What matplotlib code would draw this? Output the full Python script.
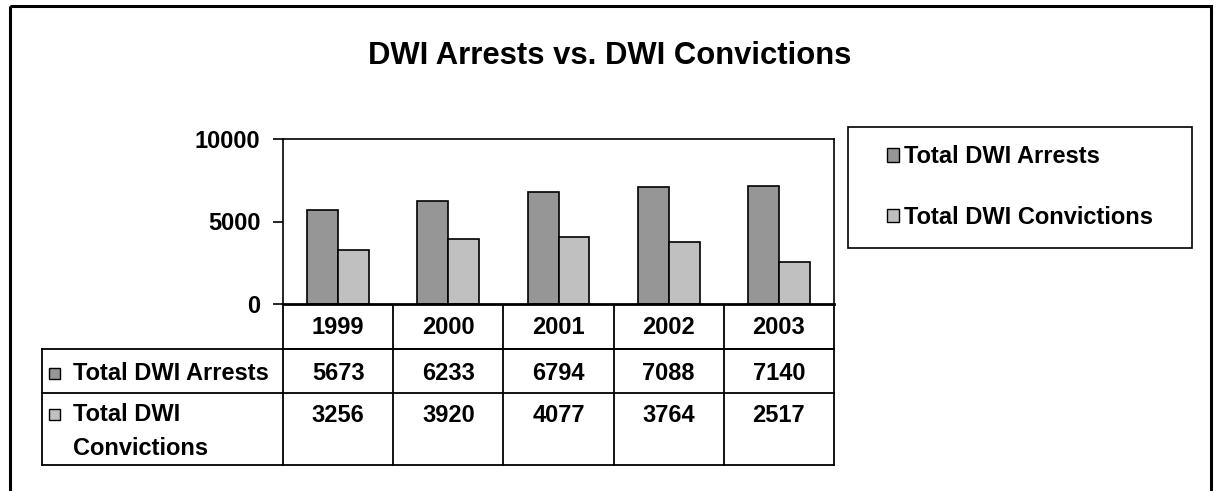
import matplotlib
matplotlib.use('Agg')
import matplotlib.pyplot as plt
from matplotlib.patches import Rectangle, Patch
from matplotlib import transforms

plt.rcParams['font.family'] = ['Liberation Sans', 'DejaVu Sans']
plt.rcParams['font.weight'] = 'bold'

# Data
years = ['1999', '2000', '2001', '2002', '2003']
arrests = [5673, 6233, 6794, 7088, 7140]
convictions = [3256, 3920, 4077, 3764, 2517]
series_names = ['Total DWI Arrests', 'Total DWI Convictions']
table_names = ['Total DWI Arrests', 'Total DWI\nConvictions']
colors = ['#969696', '#C0C0C0']

W, H = 1218, 491
fig = plt.figure(figsize=(W / 100, H / 100), dpi=100)

# overlay in pixel coords (y downwards)
ov = fig.add_axes([0, 0, 1, 1])
ov.set_xlim(0, W)
ov.set_ylim(H, 0)
ov.axis('off')

# plot area
ax = fig.add_axes([283 / W, 1 - 304 / H, 551 / W, 165 / H])
x = list(range(len(years)))
bw = 0.28
ax.bar([i - bw / 2 for i in x], arrests, bw, color=colors[0], edgecolor='black', linewidth=1.2, label=series_names[0])
ax.bar([i + bw / 2 for i in x], convictions, bw, color=colors[1], edgecolor='black', linewidth=1.2, label=series_names[1])
ax.set_xlim(-0.5, 4.5)
ax.set_ylim(0, 10000)
ax.set_yticks([0, 5000, 10000])
ax.set_yticklabels(['0', '5000', '10000'], fontsize=17, fontweight='bold')
ax.set_xticks([])
ax.tick_params(axis='y', direction='out', length=7.2, width=1.2, pad=9)
for s in ['left', 'right', 'top']:
    ax.spines[s].set_linewidth(1.2)
ax.spines['bottom'].set_linewidth(2)

# title
ov.text(610, 56, 'DWI Arrests vs. DWI Convictions', fontsize=22.3, fontweight='bold',
        ha='center', va='center')

# outer frame
ov.add_patch(Rectangle((10, 6), 1201, 495, fill=False, edgecolor='black', linewidth=2.2, clip_on=False))

# legend
ov.add_patch(Rectangle((848, 127), 344, 121, fill=False, edgecolor='black', linewidth=1.2))
handles = [Patch(facecolor=c, edgecolor='black', linewidth=1) for c in colors]
leg = fig.legend(handles, series_names, loc='center left',
                 bbox_to_anchor=(887 / W, 1 - 187 / H), frameon=False,
                 prop={'size': 17, 'weight': 'bold'}, handlelength=0.52, handleheight=0.52,
                 handletextpad=0.2, labelspacing=1.6, borderpad=0, borderaxespad=0)

# data table below the axis
tr = transforms.blended_transform_factory(ax.transData, ov.transData)
row_y = [304, 349, 393, 465]
lw = 1.3
for b in [i - 0.5 for i in range(len(years) + 1)]:
    ov.plot([b, b], [row_y[0], row_y[-1]], color='black', lw=lw, transform=tr, clip_on=False)
ov.plot([-0.5, 4.5], [row_y[1], row_y[1]], color='black', lw=lw, transform=tr, clip_on=False)
for yy in row_y[1:]:
    ov.plot([42, 283], [yy, yy], color='black', lw=lw, clip_on=False)
    ov.plot([-0.5, 4.5], [yy, yy], color='black', lw=lw, transform=tr, clip_on=False)
ov.plot([42, 42], [row_y[1], row_y[-1]], color='black', lw=lw, clip_on=False)

for i, yr in enumerate(years):
    ov.text(i, 327, yr, fontsize=17, fontweight='bold', ha='center', va='center', transform=tr)
    ov.text(i, 374, str(arrests[i]), fontsize=17, fontweight='bold', ha='center', va='center', transform=tr)
    ov.text(i, 415, str(convictions[i]), fontsize=17, fontweight='bold', ha='center', va='center', transform=tr)

label_y = [373, 414]
for name, c, yy in zip(table_names, colors, label_y):
    ov.add_patch(Rectangle((49, yy - 5), 10.5, 10.5, facecolor=c, edgecolor='black', linewidth=1))
    ov.text(73, yy - 11, name, fontsize=17, fontweight='bold', ha='left', va='top', linespacing=1.62)

fig.savefig('out.png', dpi=100)
